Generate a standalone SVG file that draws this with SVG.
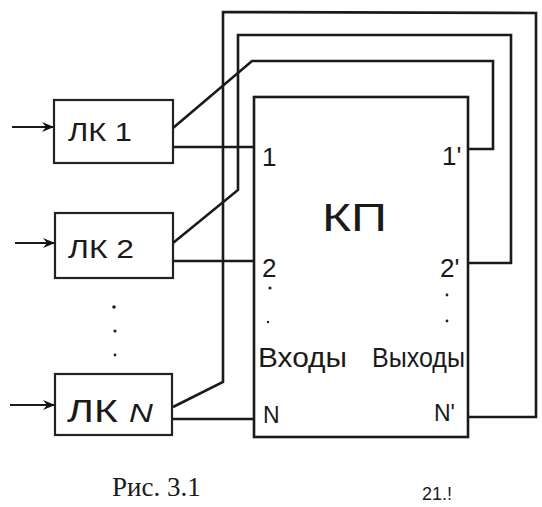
<svg xmlns="http://www.w3.org/2000/svg" width="542" height="507" viewBox="0 0 542 507">
<defs>
<marker id="ah" viewBox="0 0 12 10" refX="11" refY="5" markerWidth="12" markerHeight="10" markerUnits="userSpaceOnUse" orient="auto">
<path d="M0,0 L12,5 L0,10 L4,5 Z" fill="#111"/>
</marker>
</defs>
<style>
.box{fill:none;stroke:#222;stroke-width:2.2}
.w{fill:none;stroke:#1a1a1a;stroke-width:2.6;stroke-linejoin:miter}
.in{fill:none;stroke:#1a1a1a;stroke-width:2.2}
.t{font-family:"Liberation Sans",Arial,sans-serif;fill:#1a1a1a}
.cap{font-family:"Liberation Serif","Times New Roman",serif;fill:#1a1a1a}
.dot{fill:#222}
</style>
<rect width="542" height="507" fill="#fff"/>
<g id="lk1">
<rect class="box" x="54" y="100" width="119" height="63"/>
<text class="t" x="68" y="141" font-size="25" textLength="64" lengthAdjust="spacingAndGlyphs">ЛК 1</text>
</g>
<g id="lk2">
<rect class="box" x="55" y="213" width="118" height="65"/>
<text class="t" x="68" y="258" font-size="25" textLength="66" lengthAdjust="spacingAndGlyphs">ЛК 2</text>
</g>
<g id="lkn">
<rect class="box" x="55" y="374" width="117" height="61"/>
<text class="t" x="67" y="422" font-size="31" textLength="86" lengthAdjust="spacingAndGlyphs">ЛК <tspan font-size="25" font-style="italic">N</tspan></text>
</g>
<g id="kp">
<rect class="w" x="254" y="97" width="214" height="340"/>
<text class="t" x="322" y="231" font-size="39" textLength="65" lengthAdjust="spacingAndGlyphs">КП</text>
<text class="t" x="262" y="166" font-size="26">1</text>
<text class="t" x="262" y="277" font-size="26">2</text>
<text class="t" x="263" y="423" font-size="23">N</text>
<text class="t" x="442" y="165" font-size="26">1'</text>
<text class="t" x="440" y="277" font-size="26">2'</text>
<text class="t" x="434" y="421" font-size="23">N'</text>
<text class="t" x="258" y="367" font-size="27" textLength="89" lengthAdjust="spacingAndGlyphs">Входы</text>
<text class="t" x="372" y="367" font-size="27" textLength="93" lengthAdjust="spacingAndGlyphs">Выходы</text>
<circle class="dot" cx="270" cy="288" r="1.6"/>
<circle class="dot" cx="268" cy="322" r="1.2"/>
<circle class="dot" cx="447" cy="295" r="1.4"/>
<circle class="dot" cx="447" cy="321" r="1.4"/>
</g>
<g id="dots">
<circle class="dot" cx="114" cy="307" r="1.8"/>
<circle class="dot" cx="115" cy="331" r="1.6"/>
<circle class="dot" cx="115" cy="355" r="1.4"/>
</g>
<g id="connectors">
<line class="in" x1="12" y1="127" x2="53" y2="127" marker-end="url(#ah)"/>
<line class="in" x1="15" y1="243" x2="54" y2="243" marker-end="url(#ah)"/>
<line class="in" x1="10" y1="405" x2="54" y2="405" marker-end="url(#ah)"/>
<polyline class="w" points="173,147 254,147"/>
<polyline class="w" points="173,261 254,261"/>
<polyline class="w" points="173,419 254,419"/>
<polyline class="w" points="173,128 252,61 493,61 493,149 468,149"/>
<polyline class="w" points="173,243 238,190 238,35 511,35 511,263 468,263"/>
<polyline class="w" points="173,407 223,382 223,12 536,13 536,417 468,417"/>
</g>
<text class="cap" x="112" y="496" font-size="27">Рис. 3.1</text>
<text class="t" x="422" y="500" font-size="18">21.!</text>
</svg>
